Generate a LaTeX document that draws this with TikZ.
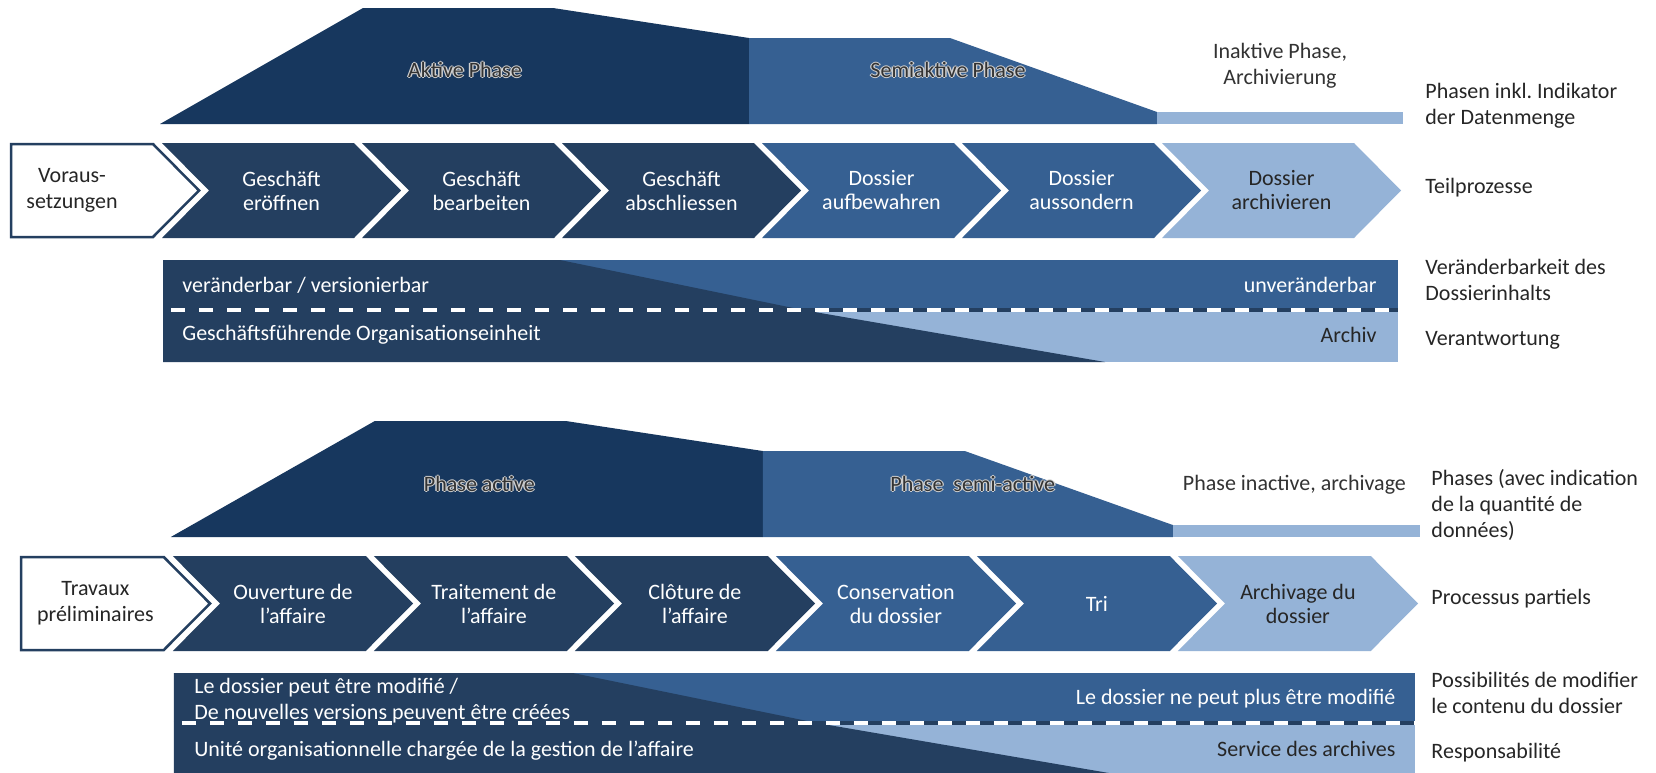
\documentclass[tikz,border=0pt]{standalone}
\usepackage{fontspec}
\setmainfont{Carlito}
\usepackage{xcolor}
\usepackage{tikz}
\frenchspacing

\definecolor{activenavy}{HTML}{17375E}
\definecolor{procnavy}{HTML}{243F60}
\definecolor{semiblue}{HTML}{366092}
\definecolor{paleblue}{HTML}{95B3D7}
\definecolor{glowgrey}{HTML}{D0D0D0}

\newcommand{\glow}[1]{%
  \leavevmode
  \rlap{\kern-.7pt\textcolor{glowgrey}{#1}}%
  \rlap{\kern.7pt\textcolor{glowgrey}{#1}}%
  \rlap{\raisebox{.7pt}{\textcolor{glowgrey}{#1}}}%
  \rlap{\raisebox{-.7pt}{\textcolor{glowgrey}{#1}}}%
  #1}

\begin{document}
\begin{tikzpicture}[x=0.5pt,y=-0.5pt,
  every node/.style={inner sep=0pt, font=\fontsize{11}{13}\selectfont},
  proc/.style={text=white, align=center, font=\fontsize{11}{12}\selectfont},
  proclight/.style={proc, text=black!85},
  phase/.style={text=black!80},
  bandtext/.style={text=white, align=left},
  rowlabel/.style={text=black!85, anchor=west, align=left}]

\useasboundingbox (0,0) rectangle (1656,772);
\fill[white] (0,0) rectangle (1656,772);

% German version
\begin{scope}
    \fill[activenavy] (160,124) -- (363,8) -- (553,8) -- (749,38) -- (749,124) -- cycle;
    \fill[semiblue] (749,38) -- (950,38) -- (1157,112) -- (1157,124) -- (749,124) -- cycle;
    \fill[paleblue] (1157,112) rectangle (1403,124);
    \node[phase] (aktiv) at (465,70) {\glow{Aktive Phase}};
    \node[phase] (semiaktiv) at (948,70) {\glow{Semiaktive Phase}};
    \node[phase, align=center] (inaktiv) at (1280,65.5) {Inaktive Phase,\\Archivierung};

    \draw[procnavy, line width=1.25pt, fill=white] (11,144) -- (153,144) -- (199,190.5) -- (153,237) -- (11,237) -- cycle;
    \fill[procnavy] (162,143) -- ++(192,0) -- ++(47,47.5) -- ++(-47,47.5) -- ++(-192,0) -- ++(47,-47.5) -- cycle;
    \fill[procnavy] (362,143) -- ++(192,0) -- ++(47,47.5) -- ++(-47,47.5) -- ++(-192,0) -- ++(47,-47.5) -- cycle;
    \fill[procnavy] (562,143) -- ++(192,0) -- ++(47,47.5) -- ++(-47,47.5) -- ++(-192,0) -- ++(47,-47.5) -- cycle;
    \fill[semiblue] (762,143) -- ++(192,0) -- ++(47,47.5) -- ++(-47,47.5) -- ++(-192,0) -- ++(47,-47.5) -- cycle;
    \fill[semiblue] (962,143) -- ++(192,0) -- ++(47,47.5) -- ++(-47,47.5) -- ++(-192,0) -- ++(47,-47.5) -- cycle;
    \fill[paleblue] (1162,143) -- ++(192,0) -- ++(47,47.5) -- ++(-47,47.5) -- ++(-192,0) -- ++(47,-47.5) -- cycle;
    \node[text=black!85, align=center] (voraus) at (72,190.5) {Voraus-\\setzungen};
    \node[proc] (eroeffnen) at (281.5,190.5) {Geschäft\\eröffnen};
    \node[proc] (bearbeiten) at (481.5,190.5) {Geschäft\\bearbeiten};
    \node[proc] (abschliessen) at (681.5,190.5) {Geschäft\\abschliessen};
    \node[proc] (aufbewahren) at (881.5,190.5) {Dossier\\aufbewahren};
    \node[proc] (aussondern) at (1081.5,190.5) {Dossier\\aussondern};
    \node[proclight] (archivieren) at (1281.5,190.5) {Dossier\\archivieren};

    \fill[semiblue] (163,260) rectangle (1398,310);
    \fill[paleblue] (163,310) rectangle (1398,362);
    \fill[procnavy] (163,260) -- (560,260) -- (803,310) -- (1105,362) -- (163,362) -- cycle;
    \draw[procnavy, line width=1.8pt] (163,310) -- (1398,310);
    \draw[white, line width=1.8pt, dash pattern=on 7pt off 7pt, dash phase=-4pt] (163,310) -- (1398,310);
    \node[bandtext, anchor=west] (veraenderbar) at (182,285) {veränderbar / versionierbar};
    \node[bandtext, anchor=east] (unveraenderbar) at (1377,285) {unveränderbar};
    \node[bandtext, anchor=west] (geschaeftsfuehrend) at (182,335) {Geschäftsführende Organisationseinheit};
    \node[bandtext, anchor=east, text=black!85] (archiv) at (1377,335) {Archiv};

    \node[rowlabel] (lblphasen) at (1425,106) {Phasen inkl. Indikator\\der Datenmenge};
    \node[rowlabel] (lblteil) at (1425,188) {Teilprozesse};
    \node[rowlabel] (lblveraender) at (1425,280) {Veränderbarkeit des\\Dossierinhalts};
    \node[rowlabel] (lblverantw) at (1425,340) {Verantwortung};
\end{scope}

% French version
\begin{scope}[shift={(10,413)},xscale=1.005]
    \fill[activenavy] (160,124) -- (363,8) -- (553,8) -- (749,38) -- (749,124) -- cycle;
    \fill[semiblue] (749,38) -- (950,38) -- (1157,112) -- (1157,124) -- (749,124) -- cycle;
    \fill[paleblue] (1157,112) rectangle (1403,124);
    \node[phase] (active) at (467,71) {\glow{Phase active}};
    \node[phase] (semiactive) at (958,71) {\glow{Phase\ \ semi-active}};
    \node[phase] (inactive) at (1278,72) {Phase inactive, archivage};

    \draw[procnavy, line width=1.25pt, fill=white] (11,144) -- (153,144) -- (199,190.5) -- (153,237) -- (11,237) -- cycle;
    \fill[procnavy] (162,143) -- ++(192,0) -- ++(47,47.5) -- ++(-47,47.5) -- ++(-192,0) -- ++(47,-47.5) -- cycle;
    \fill[procnavy] (362,143) -- ++(192,0) -- ++(47,47.5) -- ++(-47,47.5) -- ++(-192,0) -- ++(47,-47.5) -- cycle;
    \fill[procnavy] (562,143) -- ++(192,0) -- ++(47,47.5) -- ++(-47,47.5) -- ++(-192,0) -- ++(47,-47.5) -- cycle;
    \fill[semiblue] (762,143) -- ++(192,0) -- ++(47,47.5) -- ++(-47,47.5) -- ++(-192,0) -- ++(47,-47.5) -- cycle;
    \fill[semiblue] (962,143) -- ++(192,0) -- ++(47,47.5) -- ++(-47,47.5) -- ++(-192,0) -- ++(47,-47.5) -- cycle;
    \fill[paleblue] (1162,143) -- ++(192,0) -- ++(47,47.5) -- ++(-47,47.5) -- ++(-192,0) -- ++(47,-47.5) -- cycle;
    \node[text=black!85, align=center] (travaux) at (85,190.5) {Travaux\\préliminaires};
    \node[proc] (ouverture) at (281.5,190.5) {Ouverture de\\l’affaire};
    \node[proc] (traitement) at (481.5,190.5) {Traitement de\\l’affaire};
    \node[proc] (cloture) at (681.5,190.5) {Clôture de\\l’affaire};
    \node[proc] (conservation) at (881.5,190.5) {Conservation\\du dossier};
    \node[proc] (tri) at (1081.5,190.5) {Tri};
    \node[proclight] (archivage) at (1281.5,190.5) {Archivage du\\dossier};

    \fill[semiblue] (163,260) rectangle (1398,310);
    \fill[paleblue] (163,310) rectangle (1398,362);
    \fill[procnavy] (163,260) -- (560,260) -- (803,310) -- (1105,362) -- (163,362) -- cycle;
    \draw[procnavy, line width=1.8pt] (163,310) -- (1398,310);
    \draw[white, line width=1.8pt, dash pattern=on 7pt off 7pt, dash phase=-4pt] (163,310) -- (1398,310);
    \node[bandtext, anchor=west] (modifiable) at (183,287.5) {Le dossier peut être modifié /\\De nouvelles versions peuvent être créées};
    \node[bandtext, anchor=east] (nonmodifiable) at (1379,286) {Le dossier ne peut plus être modifié};
    \node[bandtext, anchor=west] (unite) at (183,338) {Unité organisationnelle chargée de la gestion de l’affaire};
    \node[bandtext, anchor=east, text=black!85] (service) at (1379,336) {Service des archives};

    \node[rowlabel] (lblphases) at (1414,92) {Phases (avec indication\\de la quantité de\\données)};
    \node[rowlabel] (lblprocessus) at (1414,186) {Processus partiels};
    \node[rowlabel] (lblpossib) at (1414,279.5) {Possibilités de modifier\\le contenu du dossier};
    \node[rowlabel] (lblrespons) at (1414,340) {Responsabilité};
\end{scope}
\end{tikzpicture}
\end{document}
